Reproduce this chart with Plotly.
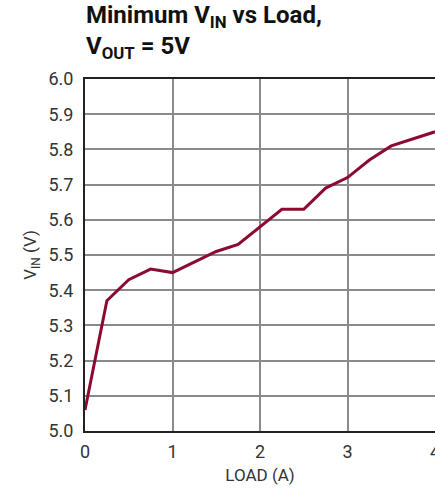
import plotly.graph_objects as go

load_a = [0, 0.25, 0.5, 0.75, 1.0, 1.25, 1.5, 1.75, 2.0, 2.25, 2.5, 2.75, 3.0, 3.25, 3.5, 3.75, 4.0]
vin_min = [5.06, 5.37, 5.43, 5.46, 5.45, 5.48, 5.51, 5.53, 5.58, 5.63, 5.63, 5.69, 5.72, 5.77, 5.81, 5.83, 5.85]

x_ticks = [0, 1, 2, 3, 4]
y_ticks = [5.0, 5.1, 5.2, 5.3, 5.4, 5.5, 5.6, 5.7, 5.8, 5.9, 6.0]

FONT = "Roboto, Liberation Sans Narrow, sans-serif"

fig = go.Figure()
fig.add_trace(go.Scatter(
    x=load_a, y=vin_min, mode="lines",
    line=dict(color="#8C0A30", width=3),
    showlegend=False,
))

axis_common = dict(
    showgrid=True, gridcolor="#8a8a8a", gridwidth=1.5,
    showline=True, linecolor="#222222", linewidth=2, mirror=True,
    ticks="", zeroline=False, automargin=False,
    ticklabeloverflow="allow",
    tickfont=dict(family=FONT, size=18, color="#333333"),
)

fig.update_xaxes(
    range=[0, 4], tickvals=x_ticks, ticktext=[str(v) for v in x_ticks],
    ticklabelstandoff=3,
    title=dict(text="LOAD (A)", font=dict(family=FONT, size=17, color="#333333"), standoff=9),
    **axis_common,
)
fig.update_yaxes(
    range=[5.0, 6.0], tickvals=y_ticks, ticktext=[f"{v:.1f}" for v in y_ticks],
    ticklabelstandoff=6,
    title=dict(text="V<sub>IN</sub> (V)", font=dict(family=FONT, size=17, color="#333333"), standoff=7),
    **axis_common,
)

fig.update_layout(
    width=435, height=488,
    margin=dict(l=85, r=0, t=79, b=57),
    paper_bgcolor="white", plot_bgcolor="white",
    annotations=[dict(
        text="<b>Minimum V<sub>IN</sub> vs Load,<br>V<sub>OUT</sub> = 5V</b>",
        font=dict(family=FONT, size=24, color="#111111"),
        xref="paper", yref="paper", x=-0.004, y=1.226,
        xanchor="left", yanchor="top", align="left", showarrow=False,
    )],
)

fig.write_html(
    "out.html",
    config={"displayModeBar": False},
    post_script=(
        "document.body.style.margin='0';"
        "document.body.style.overflow='hidden';"
        "document.documentElement.style.overflow='hidden';"
    ),
)
